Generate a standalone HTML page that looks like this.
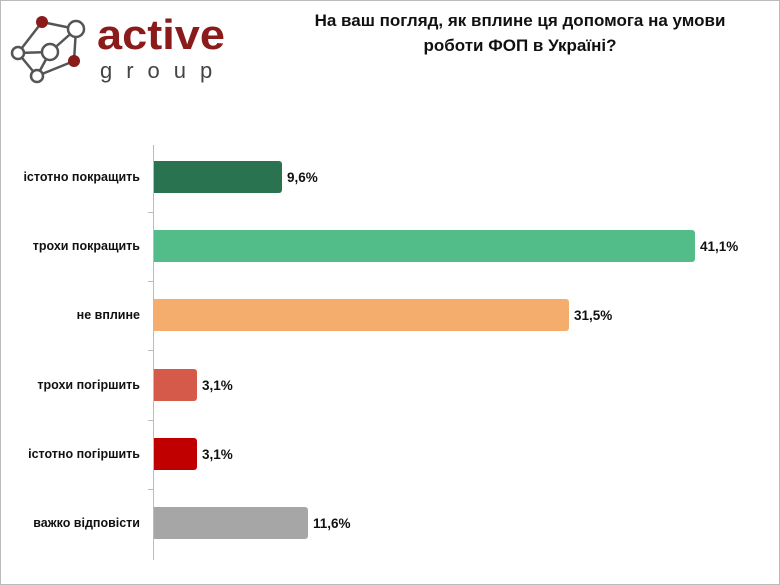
<!DOCTYPE html>
<html><head><meta charset="utf-8"><style>
body{margin:0;width:780px;height:585px;background:#fff;overflow:hidden;font-family:"Liberation Sans","DejaVu Sans",sans-serif;}
.frame{position:absolute;left:0;top:0;width:778px;height:583px;border:1px solid #bbb;}
.t{position:absolute;font-weight:bold;color:#111;}
.lbl{position:absolute;right:640px;font-size:12.5px;font-weight:bold;color:#111;text-align:right;white-space:nowrap;}
.bar{position:absolute;left:154px;height:32px;border-radius:0 3px 3px 0;}
.val{position:absolute;font-size:13.5px;font-weight:bold;color:#111;}
</style></head><body>
<div class="frame"></div>
<svg style="position:absolute;left:0;top:0" width="240" height="90">
<g stroke="#555" stroke-width="2.5" fill="#fff">
<line x1="42" y1="22" x2="76" y2="29"/><line x1="42" y1="22" x2="18" y2="53"/><line x1="76" y1="29" x2="50" y2="52"/><line x1="76" y1="29" x2="74" y2="61"/><line x1="18" y1="53" x2="50" y2="52"/><line x1="18" y1="53" x2="37" y2="76"/><line x1="50" y1="52" x2="37" y2="76"/><line x1="74" y1="61" x2="37" y2="76"/>
<circle cx="76" cy="29" r="8"/><circle cx="50" cy="52" r="8"/><circle cx="18" cy="53" r="6"/><circle cx="37" cy="76" r="6"/>
<circle cx="42" cy="22" r="6" fill="#8b1a1a" stroke="none"/><circle cx="74" cy="61" r="6" fill="#8b1a1a" stroke="none"/>
</g>
<text x="97" y="49" font-family="Liberation Sans" font-weight="bold" font-size="42" fill="#8b1a1a" textLength="128" lengthAdjust="spacingAndGlyphs">active</text>
<text x="100" y="78" font-family="Liberation Sans" font-size="22" fill="#444" letter-spacing="14">group</text>
</svg>
<div class="t" style="left:280px;top:8px;width:480px;text-align:center;font-size:17px;line-height:25px;">На ваш погляд, як вплине ця допомога на умови<br>роботи ФОП в Україні?</div>
<div style="position:absolute;left:153px;top:145px;width:1px;height:415px;background:#bbb"></div>
<div style="position:absolute;left:148px;top:212px;width:5px;height:1px;background:#bbb"></div>
<div style="position:absolute;left:148px;top:281px;width:5px;height:1px;background:#bbb"></div>
<div style="position:absolute;left:148px;top:350px;width:5px;height:1px;background:#bbb"></div>
<div style="position:absolute;left:148px;top:420px;width:5px;height:1px;background:#bbb"></div>
<div style="position:absolute;left:148px;top:489px;width:5px;height:1px;background:#bbb"></div>

<div class="lbl" style="top:170px">істотно покращить</div>
<div class="bar" style="top:161px;width:128px;background:#2a7350"></div>
<div class="val" style="left:287px;top:170px">9,6%</div>

<div class="lbl" style="top:239px">трохи покращить</div>
<div class="bar" style="top:230px;width:541px;background:#52bd89"></div>
<div class="val" style="left:700px;top:239px">41,1%</div>

<div class="lbl" style="top:308px">не вплине</div>
<div class="bar" style="top:299px;width:415px;background:#f4ad6d"></div>
<div class="val" style="left:574px;top:308px">31,5%</div>

<div class="lbl" style="top:378px">трохи погіршить</div>
<div class="bar" style="top:369px;width:43px;background:#d55a4a"></div>
<div class="val" style="left:202px;top:378px">3,1%</div>

<div class="lbl" style="top:447px">істотно погіршить</div>
<div class="bar" style="top:438px;width:43px;background:#c00000"></div>
<div class="val" style="left:202px;top:447px">3,1%</div>

<div class="lbl" style="top:516px">важко відповісти</div>
<div class="bar" style="top:507px;width:154px;background:#a6a6a6"></div>
<div class="val" style="left:313px;top:516px">11,6%</div>
</body></html>
